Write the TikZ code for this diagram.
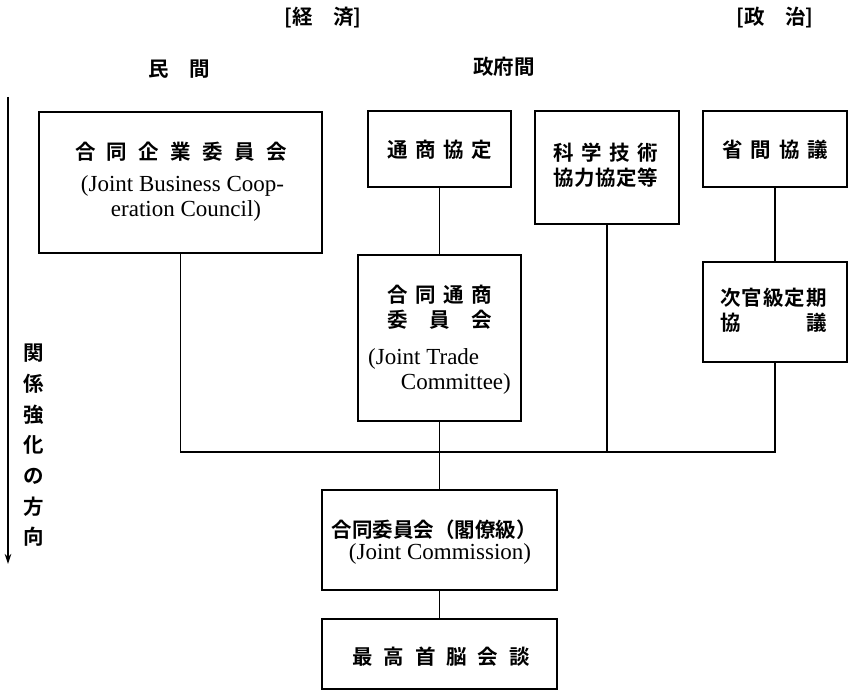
\documentclass[tikz,border=0pt]{standalone}
\usepackage{fontspec}
\newfontfamily\jp{Noto Sans CJK JP}[UprightFont={* Bold}]
\newfontfamily\en{Liberation Serif}
\usetikzlibrary{arrows.meta}
\newcommand\jpf{\jp\fontsize{20.5}{25}\selectfont}
\newcommand\enf{\en\fontsize{23}{25}\selectfont}
\newcommand\jl[2]{\makebox[#1][s]{#2}}
\begin{document}
\begin{tikzpicture}[x=1pt,y=-1pt,
  box/.style={draw,line width=1.1pt,inner sep=0pt},
  jt/.style={inner sep=0pt,anchor=base,font=\jpf},
  et/.style={inner sep=0pt,anchor=base,font=\enf},
  conn/.style={line width=1.1pt}]
\useasboundingbox (0,0) rectangle (850,690);
% headers
\node[jt] (h1) at (323,25) {[経\hspace{1em}済]};
\node[jt] (h2) at (775,25) {[政\hspace{1em}治]};
\node[jt] (h3) at (179,77) {\jl{62pt}{民\hfill 間}};
\node[jt] (h4) at (504,75) {政府間};
% boxes
\node[box,minimum width=283pt,minimum height=141pt] (b1) at (180.5,182.5) {};
\node[box,minimum width=143pt,minimum height=76pt] (b2) at (439.5,149) {};
\node[box,minimum width=144pt,minimum height=113pt] (b3) at (607,167.5) {};
\node[box,minimum width=144pt,minimum height=76pt] (b4) at (775,149) {};
\node[box,minimum width=163pt,minimum height=166pt] (b5) at (439.5,338) {};
\node[box,minimum width=144pt,minimum height=100pt] (b6) at (775,312) {};
\node[box,minimum width=235pt,minimum height=100pt] (b7) at (439.5,540) {};
\node[box,minimum width=235pt,minimum height=70pt] (b8) at (439.5,654) {};
% texts
\node[jt] (t1a) at (181,159.5) {\jl{212pt}{合\hfill 同\hfill 企\hfill 業\hfill 委\hfill 員\hfill 会}};
\node[et] (t1b) at (182.5,191.5) {(Joint Business Coop-};
\node[et] (t1c) at (186,216.5) {eration Council)};
\node[jt] (t2) at (439.5,157.5) {\jl{105pt}{通\hfill 商\hfill 協\hfill 定}};
\node[jt] (t3a) at (606,160.5) {\jl{105pt}{科\hfill 学\hfill 技\hfill 術}};
\node[jt] (t3b) at (606,185.5) {\jl{105pt}{協\hfill 力\hfill 協\hfill 定\hfill 等}};
\node[jt] (t4) at (775,157.5) {\jl{106pt}{省\hfill 間\hfill 協\hfill 議}};
\node[jt] (t5a) at (439.5,302.5) {\jl{105pt}{合\hfill 同\hfill 通\hfill 商}};
\node[jt] (t5b) at (439.5,327.5) {\jl{105pt}{委\hfill 員\hfill 会}};
\node[et,anchor=base west] (t5c) at (368,364.5) {(Joint Trade};
\node[et,anchor=base east] (t5d) at (511,389.5) {Committee)};
\node[jt] (t6a) at (773.5,305.5) {\jl{107pt}{次\hfill 官\hfill 級\hfill 定\hfill 期}};
\node[jt] (t6b) at (773.5,330.5) {\jl{107pt}{協\hfill 議}};
\node[jt] (t7a) at (434,537.5) {合同委員会（閣僚級）};
\node[et] (t7b) at (440,559.5) {(Joint Commission)};
\node[jt] (t8) at (441,664.5) {\jl{178pt}{最\hfill 高\hfill 首\hfill 脳\hfill 会\hfill 談}};
% vertical label
\node[jt] (v1) at (34,360.5) {関};
\node[jt] (v2) at (34,391.5) {係};
\node[jt] (v3) at (34,422.5) {強};
\node[jt] (v4) at (34,452.5) {化};
\node[jt] (v5) at (34,483.5) {の};
\node[jt] (v6) at (34,514.5) {方};
\node[jt] (v7) at (34,544.5) {向};
\coordinate (atop) at (8,97);
\coordinate (abot) at (8,564);
\draw[line width=1.1pt,-{Stealth[length=10pt,width=6.5pt]}] (atop) -- (abot);
% connectors
\coordinate (jr) at (775,452);
\draw[conn] (b2) -- (b5);
\draw[conn] (b4) -- (b6);
\draw[conn] (b1.south) |- (jr) -- (b6.south);
\draw[conn] (b3.south) -- (b3.south |- jr);
\draw[conn] (b5.south) -- (b7.north);
\draw[conn] (b7) -- (b8);
\end{tikzpicture}
\end{document}
